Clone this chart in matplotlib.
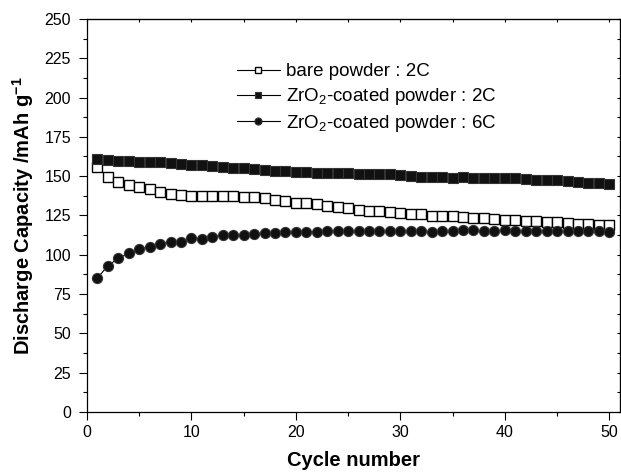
import matplotlib.pyplot as plt
from matplotlib.ticker import MultipleLocator

plt.rcParams['font.family'] = ['Liberation Sans', 'DejaVu Sans']
plt.rcParams['mathtext.fontset'] = 'custom'
plt.rcParams['mathtext.rm'] = 'Liberation Sans'
plt.rcParams['mathtext.bf'] = 'Liberation Sans:bold'

cycles = list(range(1, 51))

bare_2c = [155.5, 149.7, 146.5, 144.6, 142.9, 141.7, 140.2, 138.7, 137.8, 137.6,
           137.6, 137.4, 137.4, 137.2, 137.0, 136.8, 135.9, 134.9, 134.0, 133.2,
           132.7, 132.1, 131.3, 130.3, 129.6, 128.7, 128.0, 127.6, 127.4, 126.5,
           126.1, 125.7, 124.9, 124.4, 124.4, 124.0, 123.3, 123.3, 122.7, 122.2,
           121.8, 121.6, 121.2, 121.0, 120.8, 120.2, 119.7, 119.3, 119.1, 118.7]

coated_2c = [160.7, 160.1, 159.7, 159.5, 159.2, 159.0, 158.8, 158.4, 158.0, 157.3,
             156.9, 156.5, 155.9, 155.4, 155.2, 154.4, 153.8, 153.5, 153.1, 152.7,
             152.5, 152.2, 152.0, 151.9, 151.7, 151.4, 151.4, 151.2, 151.2, 150.6,
             150.1, 149.5, 149.7, 149.3, 148.9, 149.5, 148.9, 148.9, 148.9, 148.7,
             148.7, 148.2, 147.6, 147.6, 147.6, 146.7, 146.3, 145.9, 145.5, 144.8]

coated_6c = [85.2, 92.9, 97.8, 100.9, 103.5, 105.2, 106.9, 108.4, 108.4, 110.9,
             110.1, 111.5, 112.4, 112.8, 112.8, 113.4, 113.6, 114.1, 114.3, 114.3,
             114.7, 114.7, 114.9, 115.1, 115.1, 115.1, 115.2, 115.3, 115.3, 115.4,
             115.4, 115.3, 114.6, 115.4, 115.4, 115.5, 115.5, 115.4, 115.4, 115.5,
             115.4, 115.3, 115.3, 115.2, 115.2, 115.0, 115.0, 114.9, 114.8, 114.4]

labels = ['bare powder : 2C',
          r'ZrO$_2$-coated powder : 2C',
          r'ZrO$_2$-coated powder : 6C']

fig = plt.figure(figsize=(6.21, 4.73), dpi=100)
ax = fig.add_axes([0.140, 0.129, 0.858, 0.831])

ax.plot(cycles, bare_2c, color='black', lw=0.8, marker='s', ms=6.8,
        mfc='white', mec='black', mew=1.0, label=labels[0])
ax.plot(cycles, coated_2c, color='black', lw=0.8, marker='s', ms=6.8,
        mfc='#111111', mec='#333333', mew=0.8, label=labels[1])
ax.plot(cycles, coated_6c, color='black', lw=0.8, marker='o', ms=7.3,
        mfc='#111111', mec='#333333', mew=0.8, label=labels[2])

ax.set_xlim(0, 51)
ax.set_ylim(0, 250)
ax.xaxis.set_major_locator(MultipleLocator(10))
ax.xaxis.set_minor_locator(MultipleLocator(5))
ax.yaxis.set_major_locator(MultipleLocator(25))
ax.yaxis.set_minor_locator(MultipleLocator(12.5))

ax.tick_params(which='both', direction='out', labelsize=11.5, width=0.8)
ax.tick_params(which='major', length=5.5)
ax.tick_params(which='minor', length=3)
ax.tick_params(axis='y', which='major', pad=6)
ax.tick_params(axis='x', which='major', pad=4)

# tiny inward ticks on top and right
sec_x = ax.secondary_xaxis('top')
sec_x.xaxis.set_major_locator(MultipleLocator(5))
sec_x.tick_params(direction='in', length=2, width=0.8, labeltop=False)
sec_y = ax.secondary_yaxis('right')
sec_y.yaxis.set_major_locator(MultipleLocator(12.5))
sec_y.tick_params(direction='in', length=2, width=0.8, labelright=False)
for spine in ax.spines.values():
    spine.set_linewidth(0.9)

ax.set_xlabel('Cycle number', fontsize=14.5, fontweight='bold', labelpad=8)
ax.set_ylabel(r'Discharge Capacity /mAh g$^{\mathbf{-1}}$', fontsize=14.5,
              fontweight='bold', labelpad=6)

leg = ax.legend(loc='upper left', bbox_to_anchor=(0.281, 0.887), frameon=False,
                fontsize=13.5, handlelength=2.3, handletextpad=0.32,
                labelspacing=0.3, markerscale=0.7, borderpad=0,
                borderaxespad=0)

fig.savefig('out.png', dpi=100)
